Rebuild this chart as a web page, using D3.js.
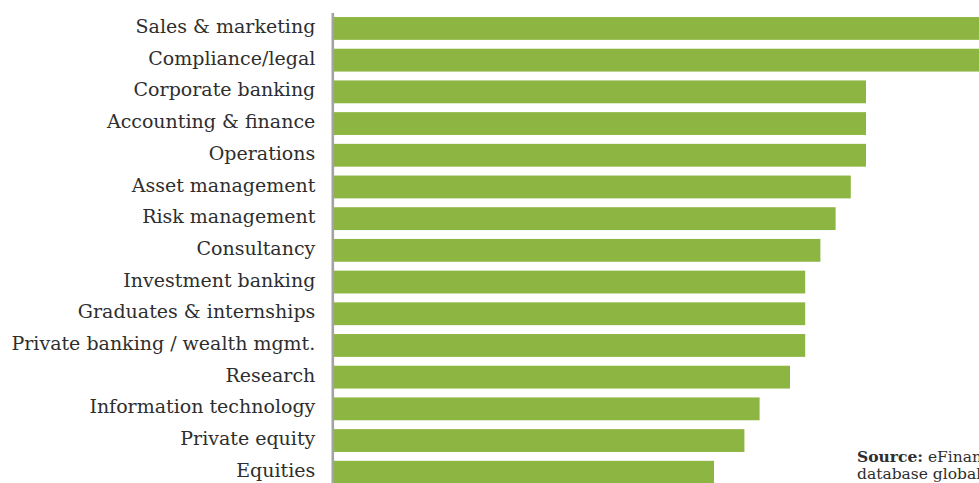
<!DOCTYPE html>
<html>
<head>
<meta charset="utf-8">
<script src="https://cdn.jsdelivr.net/npm/d3@7"></script>
<style>
  html, body { margin: 0; padding: 0; background: #fff; overflow: hidden; }
  svg { display: block; }
</style>
</head>
<body>
<svg id="chart" width="979" height="483"></svg>
<script>
// Job categories, top to bottom
const categories = [
  "Sales & marketing",
  "Compliance/legal",
  "Corporate banking",
  "Accounting & finance",
  "Operations",
  "Asset management",
  "Risk management",
  "Consultancy",
  "Investment banking",
  "Graduates & internships",
  "Private banking / wealth mgmt.",
  "Research",
  "Information technology",
  "Private equity",
  "Equities"
];

// Bar values for each category
const values = [46, 45, 35, 35, 35, 34, 33, 32, 31, 31, 31, 30, 28, 27, 25];

// Source note lines
const sourceBold = "Source:";
const sourceLines = [" eFinancialCareers", "database global"];

const W = 979, H = 483;
const svg = d3.select("#chart");

const data = categories.map((c, i) => ({ category: c, value: values[i] }));

const x0 = 334;
const x = d3.scaleLinear()
  .domain([0, 50])
  .range([x0, x0 + 760]);

const step = 31.7;
const y = d3.scaleBand()
  .domain(categories)
  .range([12.6, 12.6 + step * categories.length])
  .paddingInner(0.28)
  .paddingOuter(0.14);

// Bars
svg.append("g")
  .selectAll("rect")
  .data(data)
  .join("rect")
  .attr("x", x(0))
  .attr("y", d => y(d.category))
  .attr("width", d => x(d.value) - x(0))
  .attr("height", y.bandwidth())
  .attr("fill", "#8db542");

// Category axis with its vertical line
const axis = svg.append("g")
  .attr("transform", "translate(332.3,0)")
  .call(d3.axisLeft(y).tickSizeInner(0).tickSizeOuter(0).tickPadding(17));

axis.select(".domain")
  .attr("stroke", "#a3a3a3")
  .attr("stroke-width", 2.6);

axis.selectAll(".tick text")
  .attr("fill", "#2e2e2e")
  .attr("dy", "0.24em")
  .style("font-family", "'DejaVu Serif', serif")
  .style("font-size", "19px");

// Source note
const src = svg.append("text")
  .attr("x", 857)
  .attr("y", 462)
  .attr("fill", "#2e2e2e")
  .style("font-family", "'DejaVu Serif', serif")
  .style("font-size", "15.5px");

src.append("tspan").attr("font-weight", "bold").text(sourceBold);
src.append("tspan").text(sourceLines[0]);
src.append("tspan").attr("x", 857).attr("dy", 17).text(sourceLines[1]);
</script>
</body>
</html>
